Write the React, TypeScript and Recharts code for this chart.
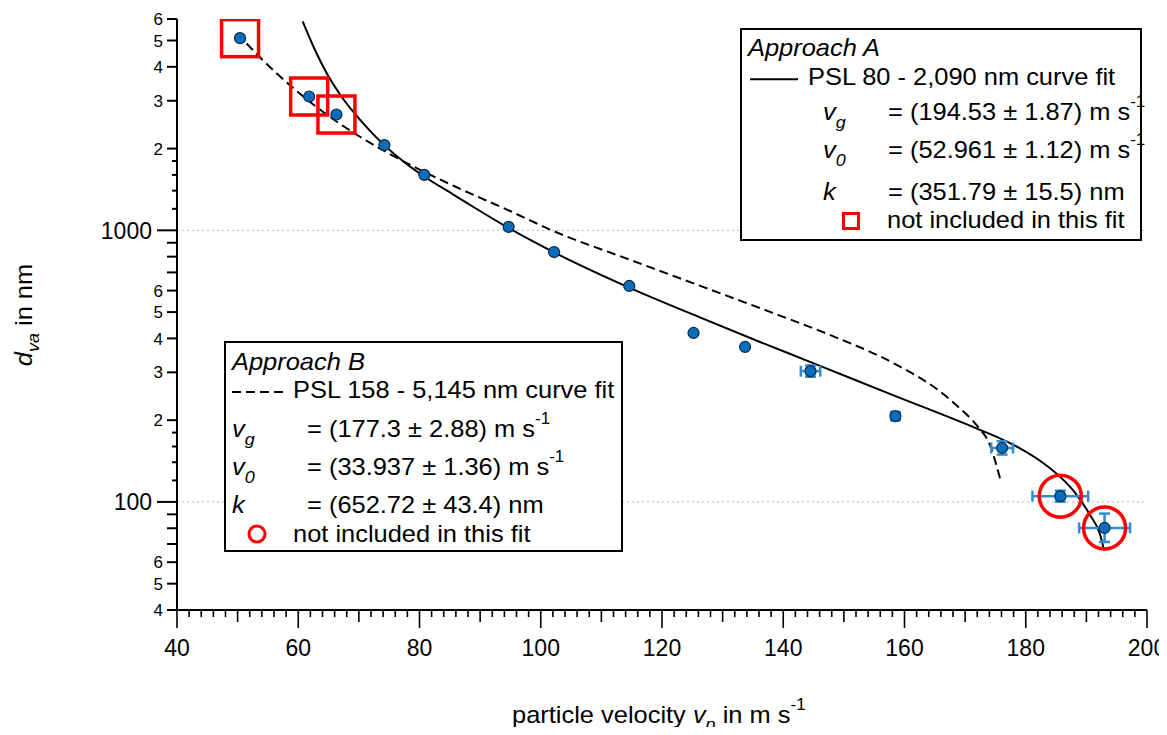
import React from 'react';
import { ComposedChart, XAxis, YAxis, Scatter, Line, ErrorBar, ReferenceLine } from 'recharts';

const FONT = '"Liberation Sans", Arial, Helvetica, sans-serif';

// measured particles (PSL)
const particleVelocity = [50.4, 61.8, 66.3, 74.2, 80.8, 94.7, 102.2, 114.6, 125.2, 133.7, 144.5, 158.5, 176.1, 185.7, 193.0];
const particleDiameter = [5100, 3110, 2670, 2060, 1600, 1030, 832, 624, 419, 372, 303, 207, 158, 105, 80.2];
const velocityError = [0, 0, 0, 0, 0, 0, 0, 0, 0, 0, 1.6, 0.5, 1.8, 4.6, 4.2];
const diameterErrorLow = [0, 0, 0, 0, 0, 0, 0, 0, 0, 0, 14, 7, 8.6, 4.8, 9];
const diameterErrorHigh = [0, 0, 0, 0, 0, 0, 0, 0, 0, 0, 15, 7, 9.2, 5, 10.4];
const excludedFromA = [0, 1, 2];
const excludedFromB = [13, 14];

// Approach A fit curve (solid)
const fitAVelocity = [60.73, 62.76, 64.74, 66.89, 69.36, 71.84, 74.14, 77.61, 80.58, 85.53, 88.33, 94.43, 102.02, 114.39, 126.76, 135.67, 144.41, 158.1, 171.96, 175.75, 179.05, 182.35, 185.65, 188.12, 190.6, 192.25, 192.91];
const fitADiameter = [5878, 4613, 3773, 3164, 2682, 2324, 2064, 1774, 1589, 1357, 1241, 1028, 833.5, 618, 473, 392, 328, 247.4, 186.2, 171.5, 157.5, 141.8, 123.8, 108.3, 89.5, 76.0, 66.4];
// Approach B fit curve (dashed)
const fitBVelocity = [49.9, 53.69, 59.79, 65.24, 70.19, 75.13, 80.08, 85.86, 94.93, 102.02, 114.72, 126.76, 137.81, 147.22, 158.1, 165.36, 169.15, 171.96, 174.1, 175.75];
const fitBDiameter = [5323, 4336, 3251, 2615, 2211, 1908, 1671, 1450, 1178, 996, 779, 619, 501, 416, 325, 260, 221, 190.8, 161.7, 122.2];

// axis ticks
const yTickValues = [40, 50, 60, 70, 80, 90, 100, 120, 140, 160, 180, 200, 300, 400, 500, 600, 700, 800, 900, 1000, 1200, 1400, 1600, 1800, 2000, 3000, 4000, 5000, 6000];
const yTickLabels = ['4', '5', '6', '', '', '', '100', '', '', '', '', '2', '3', '4', '5', '6', '', '', '', '1000', '', '', '', '', '2', '3', '4', '5', '6'];
const xMajorTicks = [40, 60, 80, 100, 120, 140, 160, 180, 200];
const xTickValues: number[] = [];
for (let v = 40; v <= 200; v += 2) xTickValues.push(v);

const points = particleVelocity.map((v, i) => ({
  v,
  d: particleDiameter[i],
  vErr: velocityError[i] || undefined,
  dErr: diameterErrorLow[i] || diameterErrorHigh[i] ? [diameterErrorLow[i], diameterErrorHigh[i]] : undefined,
}));
const squares = excludedFromA.map((i) => ({ v: particleVelocity[i], d: particleDiameter[i] }));
const circles = excludedFromB.map((i) => ({ v: particleVelocity[i], d: particleDiameter[i] }));
const fitA = fitAVelocity.map((v, i) => ({ v, d: fitADiameter[i] }));
const fitB = fitBVelocity.map((v, i) => ({ v, d: fitBDiameter[i] }));

function YTick(props: any) {
  const { x, y, payload } = props;
  const value = payload.value;
  const idx = yTickValues.indexOf(value);
  const label = idx >= 0 ? yTickLabels[idx] : '';
  const exp = Math.floor(Math.log10(value) + 1e-9);
  const mant = value / Math.pow(10, exp);
  const isMajor = label.length > 1;
  const isInt = Math.abs(mant - Math.round(mant)) < 1e-6;
  const len = isMajor ? 20 : isInt ? 10 : 5;
  return (
    <g>
      <line x1={x - len} x2={x} y1={y} y2={y} stroke="#000" strokeWidth={2} />
      {label ? (
        <text x={x - len - (isMajor ? 5 : 4)} y={y} dy="0.36em" textAnchor="end" fontSize={isMajor ? 23 : 17} fontFamily={FONT} fill="#000">
          {label}
        </text>
      ) : null}
    </g>
  );
}

function XTick(props: any) {
  const { x, y, payload } = props;
  const value = payload.value;
  const isMajor = xMajorTicks.indexOf(value) >= 0;
  const isMid = !isMajor && value % 10 === 0;
  const len = isMajor ? 18 : isMid ? 12 : 7;
  return (
    <g>
      <line x1={x} x2={x} y1={y} y2={y + len} stroke="#000" strokeWidth={1.6} />
      {isMajor ? (
        <text x={x} y={y + 46} textAnchor="middle" fontSize={23} fontFamily={FONT} fill="#000">
          {value}
        </text>
      ) : null}
    </g>
  );
}

const Dot = (p: any) => <circle cx={p.cx} cy={p.cy} r={5.5} fill="#0A6EBD" stroke="#0d2a45" strokeWidth={1.2} />;
const Square = (p: any) => <rect x={p.cx - 18.5} y={p.cy - 18.5} width={37} height={37} fill="none" stroke="#ff0000" strokeWidth={3.5} />;
const Ring = (p: any) => <circle cx={p.cx} cy={p.cy} r={21} fill="none" stroke="#ff0000" strokeWidth={3.5} />;

function T(props: { x: number; y: number; size?: number; italic?: boolean; sx?: number; children: React.ReactNode }) {
  const { x, y, size = 24, italic = false, sx = 1.06, children } = props;
  return (
    <text transform={`translate(${x},${y}) scale(${sx},1)`} fontSize={size} fontStyle={italic ? 'italic' : 'normal'} fontFamily={FONT} fill="#000">
      {children}
    </text>
  );
}

function Sym(props: { x: number; y: number; main: string; sub: string }) {
  return (
    <T x={props.x} y={props.y} italic>
      {props.main}
      <tspan dy={8} fontSize={17}>{props.sub}</tspan>
    </T>
  );
}

function Overlay() {
  return (
    <svg width={1159} height={719} style={{ position: 'absolute', left: 0, top: 0, overflow: 'visible', pointerEvents: 'none' }}>
      {/* Legend A */}
      <rect x={733} y={21} width={400} height={211} fill="#fff" stroke="#000" strokeWidth={2} />
      <T x={740} y={48} italic>Approach A</T>
      <line x1={742} x2={790} y1={71.3} y2={71.3} stroke="#000" strokeWidth={2} />
      <T x={800} y={77}>PSL 80 - 2,090 nm curve fit</T>
      <Sym x={815} y={112} main="v" sub="g" />
      <T x={880} y={112}>= (194.53 ± 1.87) m s<tspan dy={-13} fontSize={16}>-1</tspan></T>
      <Sym x={815} y={150} main="v" sub="0" />
      <T x={880} y={150}>= (52.961 ± 1.12) m s<tspan dy={-13} fontSize={16}>-1</tspan></T>
      <T x={815} y={192} italic>k</T>
      <T x={880} y={192}>= (351.79 ± 15.5) nm</T>
      <rect x={835.5} y={205.5} width={15} height={15} fill="none" stroke="#ff0000" strokeWidth={3} />
      <T x={879} y={220}>not included in this fit</T>

      {/* Legend B */}
      <rect x={217} y={334} width={397} height={209} fill="#fff" stroke="#000" strokeWidth={2} />
      <T x={224} y={362} italic>Approach B</T>
      <line x1={224} x2={280} y1={384} y2={384} stroke="#000" strokeWidth={2} strokeDasharray="9 5" />
      <T x={285} y={390}>PSL 158 - 5,145 nm curve fit</T>
      <Sym x={224} y={429} main="v" sub="g" />
      <T x={299} y={429}>= (177.3 ± 2.88) m s<tspan dy={-13} fontSize={16}>-1</tspan></T>
      <Sym x={224} y={467} main="v" sub="0" />
      <T x={299} y={467}>= (33.937 ± 1.36) m s<tspan dy={-13} fontSize={16}>-1</tspan></T>
      <T x={224} y={505} italic>k</T>
      <T x={299} y={505}>= (652.72 ± 43.4) nm</T>
      <circle cx={249} cy={526} r={8} fill="none" stroke="#ff0000" strokeWidth={3} />
      <T x={285} y={534}>not included in this fit</T>

      {/* Axis titles */}
      <T x={504} y={715}>
        particle velocity <tspan fontStyle="italic">v</tspan>
        <tspan dy={7} fontSize={17} fontStyle="italic">p</tspan>
        <tspan dy={-7}> in m s</tspan>
        <tspan dy={-13} fontSize={16}>-1</tspan>
      </T>
      <text transform="translate(24,307) rotate(-90) scale(1.06,1)" textAnchor="middle" fontSize={24} fontFamily={FONT} fill="#000">
        <tspan fontStyle="italic">d</tspan>
        <tspan dy={7} fontSize={17} fontStyle="italic">va</tspan>
        <tspan dy={-7}> in nm</tspan>
      </text>
    </svg>
  );
}

export default function App() {
  return (
    <div style={{ position: 'relative', width: 1159, height: 719 }}>
      <ComposedChart width={1159} height={719} margin={{ top: 11, right: 20, bottom: 57, left: 89 }}>
        <XAxis
          type="number"
          dataKey="v"
          domain={[40, 200]}
          allowDataOverflow
          ticks={xTickValues}
          interval={0}
          tick={(p: any) => <XTick {...p} />}
          tickLine={false}
          tickSize={0}
          tickMargin={0}
          height={60}
          axisLine={{ stroke: '#000', strokeWidth: 2 }}
        />
        <YAxis
          type="number"
          dataKey="d"
          scale="log"
          domain={[40, 6000]}
          allowDataOverflow
          ticks={yTickValues}
          interval={0}
          tick={(p: any) => <YTick {...p} />}
          tickLine={false}
          tickSize={0}
          tickMargin={0}
          width={80}
          axisLine={{ stroke: '#000', strokeWidth: 2 }}
        />
        <ReferenceLine y={1000} stroke="#b5b5b5" strokeDasharray="2 3" strokeWidth={1} />
        <ReferenceLine y={100} stroke="#b5b5b5" strokeDasharray="2 3" strokeWidth={1} />
        <Line data={fitB} dataKey="d" type="monotone" stroke="#000" strokeWidth={2} strokeDasharray="9 5" dot={false} activeDot={false} isAnimationActive={false} />
        <Line data={fitA} dataKey="d" type="monotone" stroke="#000" strokeWidth={2} dot={false} activeDot={false} isAnimationActive={false} />
        <Scatter data={points} dataKey="d" shape={Dot} isAnimationActive={false}>
          <ErrorBar dataKey="vErr" direction="x" width={5.5} stroke="#2f8ad8" strokeWidth={2.5} />
          <ErrorBar dataKey="dErr" direction="y" width={5.5} stroke="#2f8ad8" strokeWidth={2.5} />
        </Scatter>
        <Scatter data={squares} dataKey="d" shape={Square} isAnimationActive={false} />
        <Scatter data={circles} dataKey="d" shape={Ring} isAnimationActive={false} />
      </ComposedChart>
      <Overlay />
    </div>
  );
}
